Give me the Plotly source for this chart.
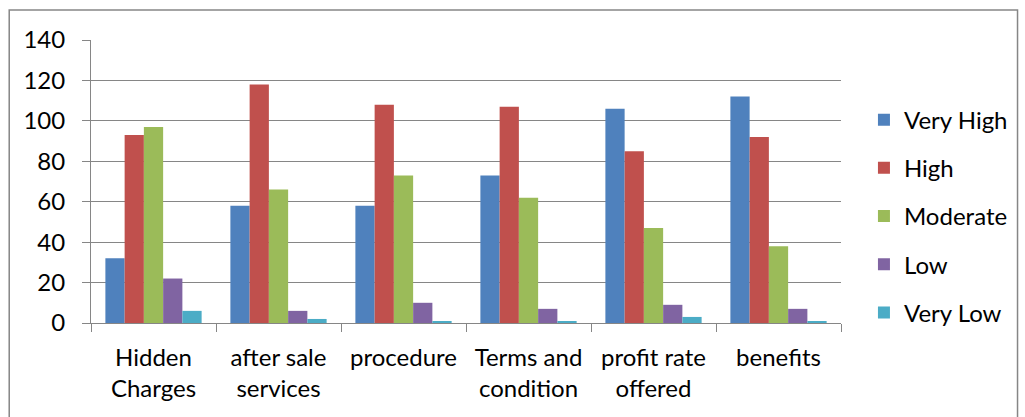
import plotly.graph_objects as go

categories = ["Hidden<br>Charges", "after sale<br>services", "procedure", "Terms and<br>condition", "profit rate<br>offered", "benefits"]
series_names = ["Very High", "High", "Moderate", "Low", "Very Low"]
very_high = [32, 58, 58, 73, 106, 112]
high = [93, 118, 108, 107, 85, 92]
moderate = [97, 66, 73, 62, 47, 38]
low = [22, 6, 10, 7, 9, 7]
very_low = [6, 2, 1, 1, 3, 1]
colors = ["#4F81BD", "#C0504D", "#9BBB59", "#8064A2", "#4BACC6"]
y_ticks = [0, 20, 40, 60, 80, 100, 120, 140]

FONT = "Lato, Calibri, Carlito, sans-serif"

fig = go.Figure()
for name, vals, c in zip(series_names, [very_high, high, moderate, low, very_low], colors):
    fig.add_trace(go.Bar(name=name, x=categories, y=vals, marker_color=c,
                         marker_line_width=0, legendgroup=name))

fig.update_layout(
    width=1025, height=417,
    margin=dict(l=91, r=182, t=40, b=94),
    paper_bgcolor="white", plot_bgcolor="white",
    barmode="group", bargap=0.23, bargroupgap=0,
    font=dict(family=FONT, size=24, color="#000000"),
    legend=dict(x=1.0306, y=0.378, xanchor="left", yanchor="middle",
                font=dict(size=24), tracegroupgap=14, itemwidth=30),
    showlegend=True,
    xaxis=dict(showline=True, linecolor="#868686", linewidth=1,
               ticks="outside", tickson="boundaries", ticklen=8, tickcolor="#868686",
               showgrid=False, tickfont=dict(size=24), ticklabelstandoff=13),
    yaxis=dict(range=[0, 140], tickvals=y_ticks, showline=True, linecolor="#868686",
               linewidth=1, ticks="outside", ticklen=8, tickcolor="#868686",
               showgrid=True, gridcolor="#868686", gridwidth=1, zeroline=False,
               tickfont=dict(size=24), ticklabelstandoff=12),
)
fig.add_shape(type="rect", xref="paper", yref="paper",
              x0=-82/752, x1=(1020-91)/752, y0=-0.5, y1=1 + 30/283,
              line=dict(color="#868686", width=1.5), fillcolor="rgba(0,0,0,0)", layer="below")
fig.write_html("out.html")
